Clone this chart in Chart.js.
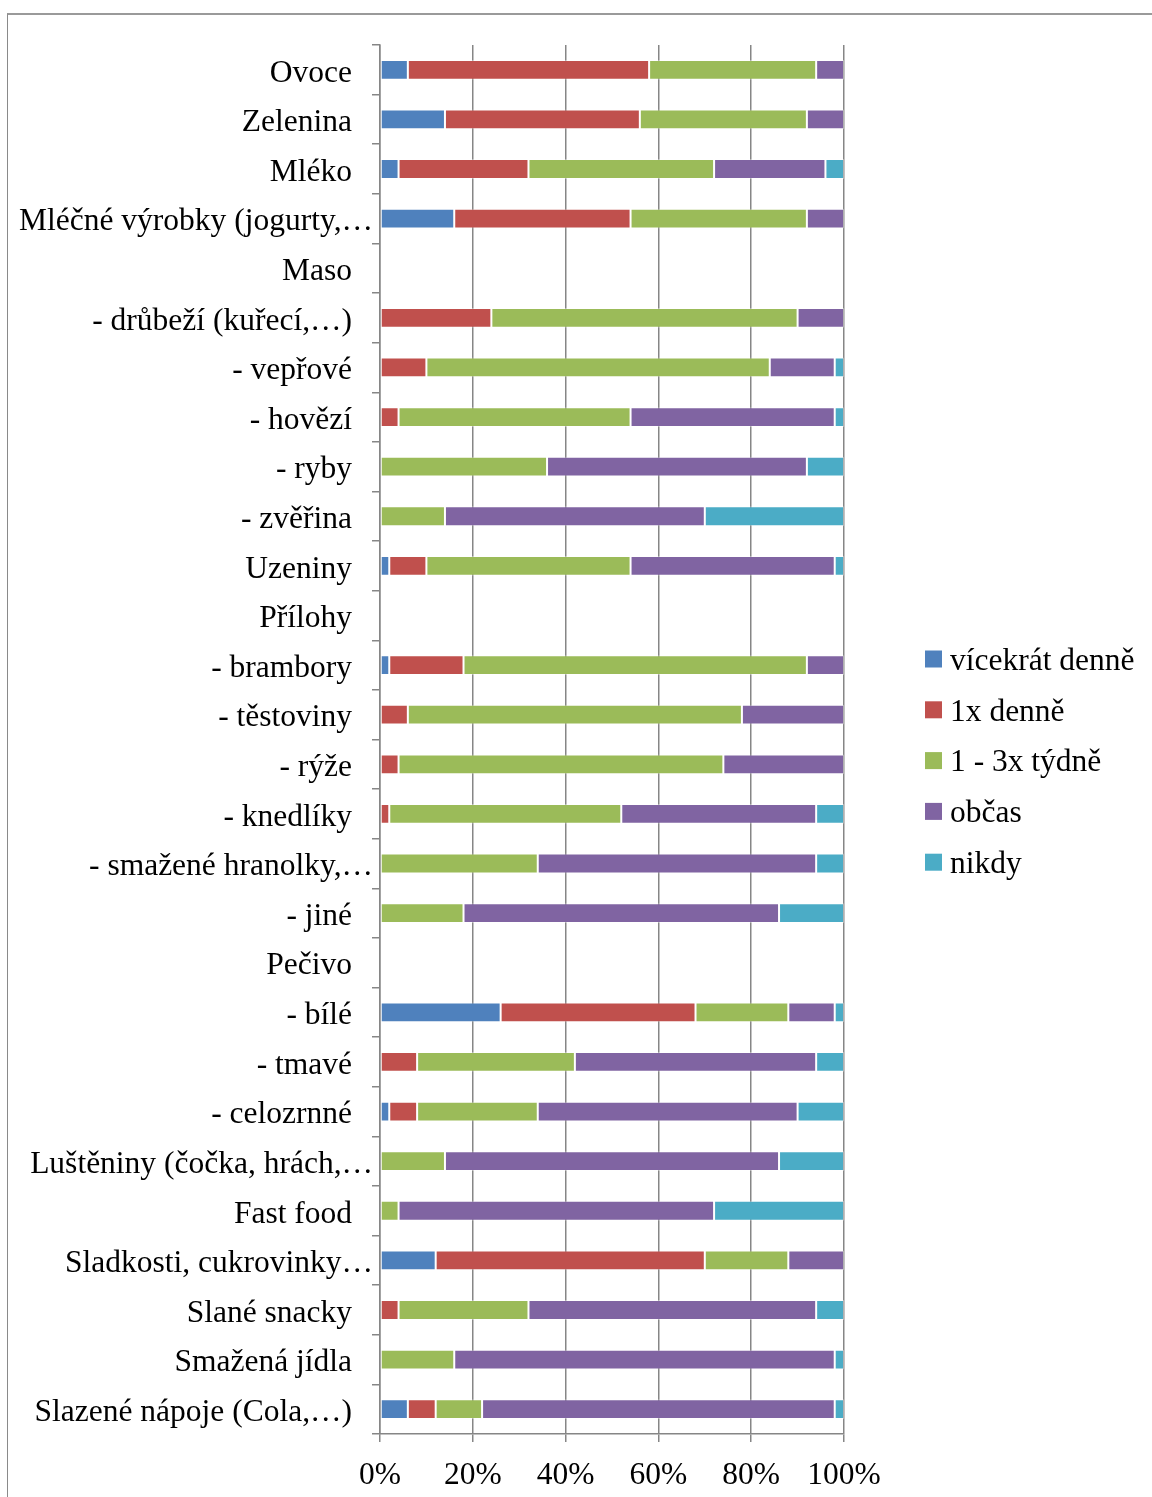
<!DOCTYPE html>
<html>
<head>
<meta charset="utf-8">
<title>Frekvence konzumace potravin</title>
<script src="https://cdn.jsdelivr.net/npm/chart.js@4.4.1/dist/chart.umd.min.js"></script>
<style>
  html, body { margin: 0; padding: 0; background: #fff; overflow: hidden; }
  #wrap { position: relative; width: 1152px; height: 1497px; }
  #frame { position: absolute; left: 7px; top: 13px; width: 1400px; height: 1700px;
           border-left: 1px solid #8a8a8a; border-top: 2px solid #9a9a9a;
           box-sizing: border-box; pointer-events: none; }
  canvas { position: absolute; left: 0; top: 0; }
</style>
</head>
<body>
<div id="wrap">
  <canvas id="chart" width="1152" height="1497"></canvas>
  <div id="frame"></div>
</div>
<script>
// Food groups (rows, top to bottom)
const categories = [
  'Ovoce', 'Zelenina', 'Mléko', 'Mléčné výrobky (jogurty,…', 'Maso',
  '- drůbeží (kuřecí,…)', '- vepřové', '- hovězí', '- ryby', '- zvěřina',
  'Uzeniny', 'Přílohy', '- brambory', '- těstoviny', '- rýže', '- knedlíky',
  '- smažené hranolky,…', '- jiné', 'Pečivo', '- bílé', '- tmavé', '- celozrnné',
  'Luštěniny (čočka, hrách,…', 'Fast food', 'Sladkosti, cukrovinky…',
  'Slané snacky', 'Smažená jídla', 'Slazené nápoje (Cola,…)'
];

// Answer shares in percent
const viceDenne = [6, 14, 4, 16, 0, 0, 0, 0, 0, 0, 2, 0, 2, 0, 0, 0, 0, 0, 0, 26, 0, 2, 0, 0, 12, 0, 0, 6];
const jednouDenne = [52, 42, 28, 38, 0, 24, 10, 4, 0, 0, 8, 0, 16, 6, 4, 2, 0, 0, 0, 42, 8, 6, 0, 0, 58, 4, 0, 6];
const tydne = [36, 36, 40, 38, 0, 66, 74, 50, 36, 14, 44, 0, 74, 72, 70, 50, 34, 18, 0, 20, 34, 26, 14, 4, 18, 28, 16, 10];
const obcas = [6, 8, 24, 8, 0, 10, 14, 44, 56, 56, 44, 0, 8, 22, 26, 42, 60, 68, 0, 10, 52, 56, 72, 68, 12, 62, 82, 76];
const nikdy = [0, 0, 4, 0, 0, 0, 2, 2, 8, 30, 2, 0, 0, 0, 0, 6, 6, 14, 0, 2, 6, 10, 14, 28, 0, 6, 2, 2];

const seriesNames = ['vícekrát denně', '1x denně', '1 - 3x týdně', 'občas', 'nikdy'];
const xTickLabels = ['0%', '20%', '40%', '60%', '80%', '100%'];

const colors = ['#4F81BD', '#C0504D', '#9BBB59', '#8064A2', '#4BACC6'];
const FONT = '"Liberation Serif", "Times New Roman", serif';
const FSIZE = 31.5;
const AXIS_GRAY = '#868686';

const seriesValues = [viceDenne, jednouDenne, tydne, obcas, nikdy];

// Category labels: right-aligned left of the axis; labels cut with an
// ellipsis run a little closer to the axis line.
const categoryLabels = {
  id: 'categoryLabels',
  afterDraw(chart) {
    const y = chart.scales.y;
    const ctx = chart.ctx;
    const left = chart.chartArea.left;
    ctx.save();
    ctx.font = FSIZE + 'px ' + FONT;
    ctx.fillStyle = '#000';
    ctx.textAlign = 'right';
    ctx.textBaseline = 'middle';
    chart.data.labels.forEach((lab, i) => {
      const py = y.getPixelForTick(i) + 3.5;
      const cut = lab.endsWith('…');
      ctx.fillText(lab, left - (cut ? 7 : 28), py);
    });
    ctx.restore();
  }
};

// Legend column to the right of the plot
const sideLegend = {
  id: 'sideLegend',
  afterDraw(chart) {
    const ctx = chart.ctx;
    const x0 = chart.chartArea.right + 81;
    const y0 = 659;
    const step = 50.8;
    ctx.save();
    ctx.font = FSIZE + 'px ' + FONT;
    ctx.textAlign = 'left';
    ctx.textBaseline = 'middle';
    chart.data.datasets.forEach((ds, i) => {
      const cy = y0 + i * step;
      ctx.fillStyle = ds.backgroundColor;
      ctx.fillRect(x0, cy - 8.5, 17, 17);
      ctx.fillStyle = '#000';
      ctx.fillText(ds.label, x0 + 25, cy + 2.5);
    });
    ctx.restore();
  }
};

new Chart(document.getElementById('chart'), {
  type: 'bar',
  data: {
    labels: categories,
    datasets: seriesNames.map((name, i) => ({
      label: name,
      data: seriesValues[i],
      backgroundColor: colors[i],
      borderColor: 'rgba(255,255,255,0.35)',
      borderWidth: 1,
      borderSkipped: false,
      categoryPercentage: 1,
      barPercentage: 0.4
    }))
  },
  options: {
    indexAxis: 'y',
    responsive: false,
    animation: false,
    devicePixelRatio: 1,
    layout: { padding: { left: 0, top: 45, right: 308, bottom: 0 } },
    plugins: {
      legend: { display: false },
      tooltip: { enabled: false }
    },
    scales: {
      x: {
        stacked: true,
        min: 0,
        max: 100,
        afterFit(scale) { scale.height = 63; },
        ticks: {
          stepSize: 20,
          padding: 15,
          color: '#000',
          font: { family: FONT, size: FSIZE },
          callback: (v) => xTickLabels[Math.round(v / 20)]
        },
        grid: {
          color: AXIS_GRAY,
          lineWidth: 1.5,
          tickLength: 8,
          tickColor: AXIS_GRAY
        },
        border: { display: true, color: AXIS_GRAY, width: 1.5 }
      },
      y: {
        stacked: true,
        afterFit(scale) { scale.width = 380; },
        ticks: { display: false },
        grid: {
          offset: true,
          drawOnChartArea: false,
          drawTicks: true,
          tickLength: 8,
          color: AXIS_GRAY,
          lineWidth: 1.5
        },
        border: { display: true, color: AXIS_GRAY, width: 1.5 }
      }
    }
  },
  plugins: [categoryLabels, sideLegend]
});
</script>
</body>
</html>
